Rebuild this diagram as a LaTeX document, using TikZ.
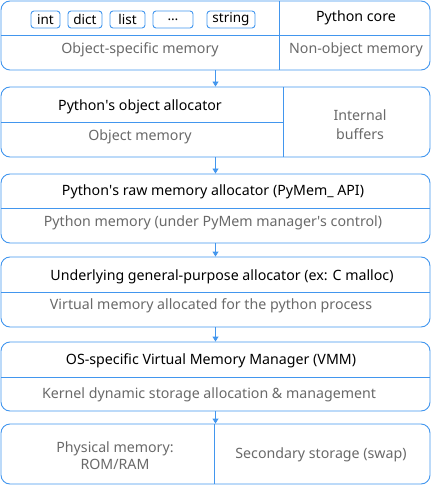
\documentclass[tikz,border=0pt]{standalone}
\usepackage{fontspec}
\setmainfont{Noto Sans}
\usetikzlibrary{arrows.meta}
\definecolor{lineblue}{RGB}{66,150,238}
\definecolor{textgray}{RGB}{105,105,105}
\tikzset{
  membox/.style={draw=lineblue, line width=0.9pt, rounded corners=9pt, minimum width=429pt, inner sep=0pt},
  typebox/.style={draw=lineblue, line width=0.9pt, rounded corners=3pt, minimum height=17pt, inner sep=0pt, font=\fontsize{13.5}{15}\selectfont},
  divider/.style={draw=lineblue, line width=0.9pt},
  title/.style={font=\fontsize{14.2}{17}\selectfont, text=black, yshift=-1.5pt},
  sub/.style={font=\fontsize{14.2}{19}\selectfont, text=textgray, align=center, yshift=-1.5pt},
  flow/.style={draw=lineblue, line width=0.9pt, -{Triangle[length=5pt,width=6pt]}}
}
\begin{document}
\begin{tikzpicture}[x=1pt, y=-1pt]
  \useasboundingbox (0,0) rectangle (432,486);

  % layer boxes
  \node[membox, minimum height=69pt] (core) at (215.5,35.5) {};
  \node[membox, minimum height=70pt] (objalloc) at (215.5,122) {};
  \node[membox, minimum height=69pt] (rawalloc) at (215.5,208.5) {};
  \node[membox, minimum height=70pt] (malloc) at (215.5,292) {};
  \node[membox, minimum height=69pt] (vmm) at (215.5,376.5) {};
  \node[membox, minimum height=60pt] (phys) at (215.5,454) {};

  % dividers
  \draw[divider] (1,35) -- (430,35);
  \draw[divider] (279,1) -- (279,70);
  \draw[divider] (1,122.7) -- (283,122.7);
  \draw[divider] (283,87) -- (283,157);
  \draw[divider] (1,208) -- (430,208);
  \draw[divider] (1,292) -- (430,292);
  \draw[divider] (1,377) -- (430,377);
  \draw[divider] (214,424) -- (214,484);

  % object types
  \node[typebox, minimum width=29pt] (int) at (45.5,19.5) {int};
  \node[typebox, minimum width=34pt] (dict) at (85,19.5) {dict};
  \node[typebox, minimum width=35pt] (list) at (127.5,19.5) {list};
  \node[typebox, minimum width=40pt] (more) at (173,19.5) {\dots};
  \node[typebox, minimum width=48pt] (string) at (231,19.5) {string};

  \node[title] (pycore) at (356,16) {Python core};
  \node[sub] (objmem) at (140,48) {Object-specific memory};
  \node[sub] (nonobj) at (356,48) {Non-object memory};

  \node[title] (objtitle) at (140,105) {Python\textquotesingle s object allocator};
  \node[sub] (objmemory) at (140,135) {Object memory};
  \node[sub] (buffers) at (360,123.5) {Internal\\buffers};

  \node[title] (rawtitle) at (213,190) {Python\textquotesingle s raw memory allocator (PyMem\_ API)};
  \node[sub] (pymem) at (213,221) {Python memory (under PyMem manager\textquotesingle s control)};

  \node[title] (malloctitle) at (222,275) {Underlying general-purpose allocator (ex: C malloc)};
  \node[sub] (virtual) at (211,304) {Virtual memory allocated for the python process};

  \node[title] (vmmtitle) at (211,359) {OS-specific Virtual Memory Manager (VMM)};
  \node[sub] (kernel) at (209,393) {Kernel dynamic storage allocation \& management};

  \node[sub, font=\fontsize{14.2}{17}\selectfont] (physmem) at (115,454) {Physical memory:\\ROM/RAM};
  \node[sub] (swap) at (321,453) {Secondary storage (swap)};

  % flow between layers
  \draw[flow] (core.south) -- (objalloc.north);
  \draw[flow] (objalloc.south) -- (rawalloc.north);
  \draw[flow] (rawalloc.south) -- (malloc.north);
  \draw[flow] (malloc.south) -- (vmm.north);
  \draw[flow] (vmm.south) -- (phys.north);
\end{tikzpicture}
\end{document}
